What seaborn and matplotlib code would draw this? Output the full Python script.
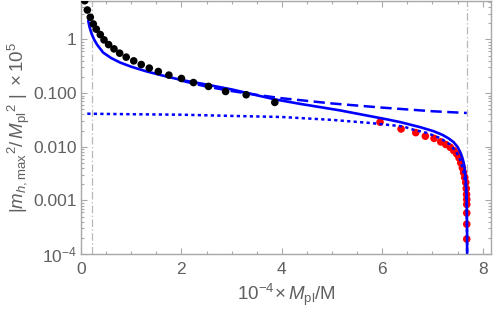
import numpy as np
import pandas as pd
import matplotlib
matplotlib.use('Agg')
import matplotlib.pyplot as plt
import seaborn as sns
from matplotlib.ticker import FixedLocator, FixedFormatter, LogLocator, MultipleLocator, NullFormatter

# ---- data ----
black_x = [0.074, 0.126, 0.185, 0.245, 0.305, 0.384, 0.458, 0.55, 0.657, 0.77, 0.90,
           1.05, 1.20, 1.36, 1.54, 1.75, 2.0, 2.24, 2.54, 2.88, 3.29, 3.86]
black_y = [5.26, 3.53, 2.59, 1.94, 1.55, 1.23, 0.98, 0.80, 0.666, 0.554, 0.467,
           0.398, 0.340, 0.292, 0.252, 0.216, 0.187, 0.157, 0.133, 0.107, 0.093, 0.067]

red_x = [5.956, 6.375, 6.667, 6.859, 7.032, 7.165, 7.265, 7.355, 7.424, 7.484, 7.530,
         7.564, 7.596, 7.620, 7.643, 7.663, 7.673, 7.679, 7.683, 7.683, 7.683, 7.683, 7.683]
red_y = [0.0287, 0.0214, 0.0183, 0.0157, 0.0143, 0.0123, 0.0110, 0.00975, 0.00847, 0.00735, 0.00619,
         0.00500, 0.00404, 0.00330, 0.00267, 0.00215, 0.00166, 0.00129, 0.00104, 0.00084, 0.00058,
         0.00036, 0.00019]

solid_x = [0.145, 0.17, 0.21, 0.26, 0.32, 0.44, 0.60, 0.78, 1.0, 1.3, 1.6, 2.0, 2.4, 3.0,
           3.57, 3.87, 4.36, 5.16, 6.12, 6.36, 6.75, 7.02, 7.20, 7.32, 7.42, 7.50, 7.56,
           7.60, 7.63, 7.66, 7.675, 7.683, 7.689, 7.692]
solid_y = [2.21, 1.70, 1.28, 1.00, 0.80, 0.57, 0.45, 0.37, 0.31, 0.254, 0.215, 0.175, 0.150,
           0.117, 0.088, 0.076, 0.063, 0.0475, 0.0320, 0.0287, 0.0232, 0.0195, 0.0166, 0.0143,
           0.0122, 0.0099, 0.0077, 0.0060, 0.0046, 0.0027, 0.0016, 0.0009, 0.0003, 0.00005]

dashed_x = [2.0, 2.5, 3.0, 3.5, 4.0, 5.0, 6.0, 7.0, 7.683]
dashed_y = [0.170, 0.132, 0.109, 0.0925, 0.080, 0.064, 0.0535, 0.0458, 0.0425]

dotted_x = [0.125, 1.0, 2.0, 3.0, 4.0, 5.0, 5.757, 6.414, 6.62, 6.887, 7.151, 7.351,
            7.47, 7.55, 7.62, 7.659, 7.68, 7.689, 7.692]
dotted_y = [0.0412, 0.0403, 0.0395, 0.0375, 0.0358, 0.0316, 0.0277, 0.0239, 0.0208, 0.0181,
            0.0145, 0.0110, 0.0081, 0.0058, 0.0034, 0.0020, 0.00084, 0.00019, 0.00005]

vline_x = [0.21, 7.68]

xtick_vals = [0, 2, 4, 6, 8]
xtick_labels = ['0', '2', '4', '6', '8']
ytick_vals = [1e-4, 1e-3, 1e-2, 1e-1, 1]
ytick_labels = ['$10^{-4}$', '0.001', '0.010', '0.100', '1']

# ---- style ----
sns.set_theme(style='white')
plt.rcParams['font.family'] = ['Liberation Sans', 'DejaVu Sans']
plt.rcParams['mathtext.fontset'] = 'custom'
plt.rcParams['mathtext.rm'] = 'Liberation Sans'
plt.rcParams['mathtext.it'] = 'Liberation Sans:italic'
plt.rcParams['mathtext.bf'] = 'Liberation Sans:bold'

text_col = '#606060'
frame_col = '#a8a8a8'
blue = '#0000ff'

fig = plt.figure(figsize=(4.98, 3.12), dpi=100)
ax = fig.add_axes([81 / 498, 1 - 254 / 312, (490.7 - 81) / 498, 253 / 312])
ax.set_yscale('log')

for xv in vline_x:
    ax.axvline(xv, color='#b8b8b8', lw=0.9, linestyle=(0, (6, 2, 1, 2)), zorder=0.5)

sns.scatterplot(x=red_x, y=red_y, ax=ax, color='#ff0000', s=30, edgecolor='none',
                linewidth=0, zorder=1)

df_solid = pd.DataFrame({'x': solid_x, 'y': solid_y})
df_dashed = pd.DataFrame({'x': dashed_x, 'y': dashed_y})
df_dotted = pd.DataFrame({'x': dotted_x, 'y': dotted_y})

sns.lineplot(data=df_dotted, x='x', y='y', ax=ax, sort=False, estimator=None,
             color=blue, lw=1.8, linestyle=(0, (1.3, 1.3)), zorder=2)
sns.lineplot(data=df_dashed, x='x', y='y', ax=ax, sort=False, estimator=None,
             color=blue, lw=1.8, linestyle=(0, (4.5, 2.2)), zorder=2)
sns.lineplot(data=df_solid, x='x', y='y', ax=ax, sort=False, estimator=None,
             color=blue, lw=1.9, zorder=2.5)

sns.scatterplot(x=black_x, y=black_y, ax=ax, color='black', s=30, edgecolor='none',
                linewidth=0, zorder=3)

ax.set_xlim(0, 8.16)
ax.set_ylim(1e-4, 5.2)

ax.xaxis.set_major_locator(FixedLocator(xtick_vals))
ax.xaxis.set_major_formatter(FixedFormatter(xtick_labels))
ax.xaxis.set_minor_locator(MultipleLocator(0.5))
ax.yaxis.set_major_locator(FixedLocator(ytick_vals))
ax.yaxis.set_major_formatter(FixedFormatter(ytick_labels))
ax.yaxis.set_minor_locator(LogLocator(base=10, subs=np.arange(2, 10)))
ax.yaxis.set_minor_formatter(NullFormatter())

ax.tick_params(which='both', direction='in', top=True, right=True, bottom=True, left=True,
               color=frame_col, width=0.8, labelcolor=text_col, labelsize=12.5)
ax.tick_params(which='major', length=4)
ax.tick_params(which='minor', length=2.2)
ax.tick_params(axis='x', pad=6)
ax.tick_params(axis='y', pad=3)

for sp in ax.spines.values():
    sp.set_color(frame_col)
    sp.set_linewidth(1.0)

ax.set_xlabel(r'$10^{-4}\!\times M_{\mathrm{pl}}/\mathrm{M}$', color=text_col, fontsize=13.5, labelpad=3)
ax.set_ylabel(r'$|m_{h,\mathrm{max}}{}^{2}/\,M_{\mathrm{pl}}{}^{2}\ |\ \times 10^{5}$',
              color=text_col, fontsize=13.5, labelpad=1)
ax.grid(False)

fig.savefig('out.png', dpi=100)
